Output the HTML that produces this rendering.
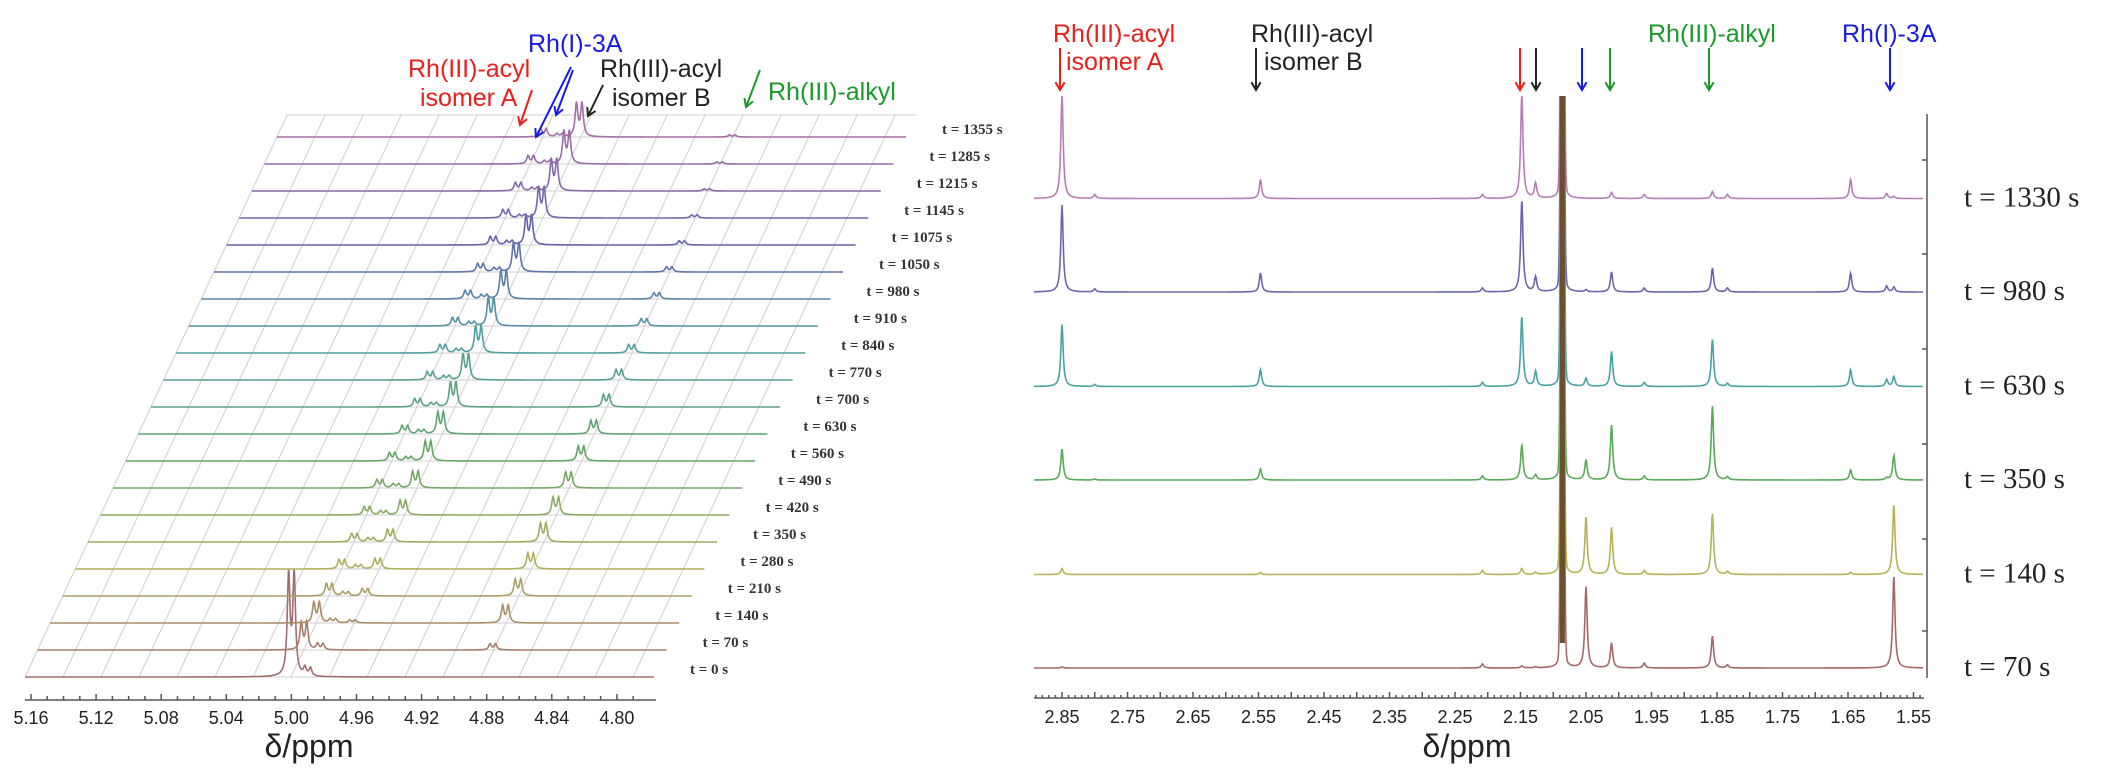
<!DOCTYPE html>
<html><head><meta charset="utf-8">
<style>
html,body{margin:0;padding:0;background:#fff;}
svg{display:block;}
.lab{font-family:"Liberation Sans",sans-serif;font-size:25px;}
.tick{font-family:"Liberation Sans",sans-serif;font-size:18px;fill:#222;}
.tl{font-family:"Liberation Serif",serif;font-size:15px;fill:#333;font-weight:bold;}
.tr{font-family:"Liberation Serif",serif;font-size:29px;fill:#222;}
</style></head>
<body>
<svg id="fig" width="2110" height="782" viewBox="0 0 2110 782" xmlns="http://www.w3.org/2000/svg">
<defs><clipPath id="rclip"><rect x="1000" y="96" width="1000" height="700"/></clipPath></defs>
<g id="left"></g>
<g id="right"></g>

<g>
<text class="lab" x="408" y="77" fill="#e8201c">Rh(III)-acyl</text>
<text class="lab" x="420" y="106" fill="#e8201c">isomer A</text>
<text class="lab" x="528" y="52" fill="#1a1ae8">Rh(I)-3A</text>
<text class="lab" x="600" y="77" fill="#222">Rh(III)-acyl</text>
<text class="lab" x="612" y="106" fill="#222">isomer B</text>
<text class="lab" x="768" y="100" fill="#1a9a2a">Rh(III)-alkyl</text>
</g>
<g>
<text class="lab" x="1053" y="42" fill="#e8201c">Rh(III)-acyl</text>
<text class="lab" x="1066" y="70" fill="#e8201c">isomer A</text>
<text class="lab" x="1251" y="42" fill="#222">Rh(III)-acyl</text>
<text class="lab" x="1264" y="70" fill="#222">isomer B</text>
<text class="lab" x="1648" y="42" fill="#1a9a2a">Rh(III)-alkyl</text>
<text class="lab" x="1842" y="42" fill="#1a1ae8">Rh(I)-3A</text>
</g>
<g id="arrows"></g>
</svg>
<script>
// ---------- LEFT PANEL DATA ----------
const leftTimes = [0,70,140,210,280,350,420,490,560,630,700,770,840,910,980,1050,1075,1145,1215,1285,1355];
const leftPpmTicks = [5.16,5.12,5.08,5.04,5.00,4.96,4.92,4.88,4.84,4.80];
const leftPeakPpm = [5.000, 4.978, 4.884, 4.990];
const leftPeakA = [101,27,20,12,9,8,8,8,8,8,8,8,8,8,8,8,8,8,8,8,8];
const leftPeakB = [0,0,3,7,10,12,14,16,19,21,24,25,26,27,27,28,29,30,31,32,33];
const leftPeakC = [0,6,17,16,15,18,17,15,14,13,12,10,8,7,6,5,4,3,2,2,2];
const leftPeakD = [8,6,4,4,4,4,4,4,4,4,4,4,4,4,4,4,4,3,3,3,3];

// ---------- RIGHT PANEL DATA ----------
const rightTimes = [1330,980,630,350,140,70];
const rightPpmTicks = [2.85,2.75,2.65,2.55,2.45,2.35,2.25,2.15,2.05,1.95,1.85,1.75,1.65,1.55];
const rightPeakPpm = [2.85,2.80,2.547,2.208,2.148,2.127,2.086,2.05,2.011,1.961,1.857,1.834,1.646,1.591,1.580];
const rH1330 = [104,4,19,4,104,15,700,0,6,4,7,4,19,5,2];
const rH980  = [87,3,19,4,92,15,700,2,20,4,24,4,19,6,5];
const rH630  = [62,2,17,4,70,15,700,8,35,4,47,3,17,7,10];
const rH350  = [31,1,11,4,35,5,700,20,55,4,74,3,10,2,25];
const rH140  = [6,0,2,4,6,2,700,57,47,4,61,3,2,0,70];
const rH70   = [1,0,0,4,2,1,700,81,25,5,32,3,0,0,92];

const NS='http://www.w3.org/2000/svg';
function mk(parent,tag,attrs){const e=document.createElementNS(NS,tag);for(const k in attrs)e.setAttribute(k,attrs[k]);parent.appendChild(e);return e;}
function lerpColor(stops,t){const n=stops.length-1;const s=Math.min(n-1,Math.floor(t*n));const f=t*n-s;const a=stops[s],b=stops[s+1];return 'rgb('+a.map((v,i)=>Math.round(v+(b[i]-v)*f)).join(',')+')';}
const lor=(x,x0,g)=>g*g/((x-x0)*(x-x0)+g*g);

// ---------- LEFT ----------
const L=document.getElementById('left');
const lx0=31, lppm0=5.16, lpx=65.1/0.04, ldx=12.6, ldy=27, lbase=677;
const lx=(p,i)=>lx0+(lppm0-p)*lpx+ldx*i;
const ly=i=>lbase-ldy*i;
const nT=leftTimes.length;
const grid=mk(L,'g',{stroke:'#cfcfcf','stroke-width':1,fill:'none'});


for(let gx=25;gx<=660;gx+=38){mk(grid,'line',{x1:gx,y1:lbase,x2:gx+ldx*(nT-1)+ldx*0.8,y2:ly(nT-1)-22});}
for(let i=0;i<nT;i++){mk(grid,'line',{x1:25+ldx*i,y1:ly(i),x2:654+ldx*i,y2:ly(i)});}
mk(grid,'line',{x1:25+ldx*(nT-1)+10,y1:ly(nT-1)-22,x2:654+ldx*(nT-1)+10,y2:ly(nT-1)-22});
const lstops=[[160,110,110],[175,175,95],[100,165,100],[80,160,160],[100,100,170],[165,110,165]];
for(let i=0;i<nT;i++){
  let d='';
  const gpx=1.6/lpx;
  const dbl=(p,c,h)=>h*(lor(p,c+0.0017,gpx)+lor(p,c-0.0017,gpx));
  for(let x=25;x<=654;x+=0.5){
    const p=lppm0-(x-lx0)/lpx;
    let h=0;
    h+=dbl(p,leftPeakPpm[0],leftPeakA[i]);
    h+=dbl(p,leftPeakPpm[1],leftPeakB[i]);
    h+=dbl(p,leftPeakPpm[2],leftPeakC[i]);
    h+=dbl(p,leftPeakPpm[3],leftPeakD[i]);
    d+=(d?'L':'M')+(x+ldx*i).toFixed(1)+' '+(ly(i)-h).toFixed(1);
  }
  const col=lerpColor(lstops,i/(nT-1));
  const path=mk(L,'path',{d:d,fill:'none',stroke:col,'stroke-width':1.6});
  
  
  const t=mk(L,'text',{class:'tl',x:654+ldx*i+36,y:ly(i)-3});
  t.textContent='t = '+leftTimes[i]+' s';
  
  
}
const lax=mk(L,'g',{stroke:'#555','stroke-width':1.5});


mk(lax,'line',{x1:25,y1:700,x2:656,y2:700});
for(let k=0;k<=38;k++){const p=5.17-k*0.01;const x=lx(p,0);if(x<25||x>656)continue;const maj=Math.abs((p*100)%4)<0.01||Math.abs((p*100)%4-4)<0.01;mk(lax,'line',{x1:x,y1:700,x2:x,y2:maj?694:696});}
leftPpmTicks.forEach(v=>{const t=mk(L,'text',{class:'tick',x:lx(v,0),y:724,'text-anchor':'middle'});t.textContent=v.toFixed(2);
  
  });
const lt=mk(L,'text',{x:309,y:757,'text-anchor':'middle','font-family':'Liberation Sans, sans-serif','font-size':32,fill:'#222'});
lt.textContent='δ/ppm';



// ---------- RIGHT ----------
const R=document.getElementById('right');
const rx0=1062, rppm0=2.85, rpx=655;
const rx=p=>rx0+(rppm0-p)*rpx;
const rBase=[198.5,292,386.5,480,574.5,668];
const rCols=['#b57fb5','#6a68aa','#4aa3a3','#5aaa5a','#b4b45a','#a46a6a'];
const rH=[rH1330,rH980,rH630,rH350,rH140,rH70];
const cg=mk(R,'g',{'clip-path':'url(#rclip)'});
for(let i=0;i<rightTimes.length;i++){
  let d='';
  for(let x=1034;x<=1923;x+=0.5){
    const p=rppm0-(x-rx0)/rpx;
    let h=0;
    for(let k=0;k<rightPeakPpm.length;k++){
      if(k===6){
        const dx=(p-rightPeakPpm[k])*rpx;
        h+=rH[i][k]*Math.exp(-dx*dx/(2*1.3*1.3))+22*lor(dx,0,3);
      } else {
        h+=rH[i][k]*lor(p,rightPeakPpm[k],1.4/rpx);
      }
    }
    d+=(d?'L':'M')+x.toFixed(1)+' '+(rBase[i]-h).toFixed(1);
  }
  const path=mk(cg,'path',{d:d,fill:'none',stroke:rCols[i],'stroke-width':1.6});
  
  
  const t=mk(R,'text',{class:'tr',x:1964,y:rBase[i]+8});
  t.textContent='t = '+rightTimes[i]+' s';
  
  
}
const solv=mk(R,'rect',{x:rx(rightPeakPpm[6])-2.5,y:96,width:5,height:rBase[5]-96-25,fill:'#6b4f2e'});


const rax=mk(R,'g',{stroke:'#555','stroke-width':1.5});


mk(rax,'line',{x1:1034,y1:698,x2:1924,y2:698});
for(let k=0;k<=136;k++){const p=2.89-k*0.01;const x=rx(p);if(x<1034||x>1924)continue;const m=Math.round(p*100)%5===0;mk(rax,'line',{x1:x,y1:698,x2:x,y2:m?692:695});}
mk(rax,'line',{x1:1927,y1:114,x2:1927,y2:678});
[160,254,349,444,539,631].forEach(y=>mk(rax,'line',{x1:1927,y1:y,x2:1922,y2:y}));
rightPpmTicks.forEach(v=>{const t=mk(R,'text',{class:'tick',x:rx(v),y:723,'text-anchor':'middle'});t.textContent=v.toFixed(2);
  
  });
const rt=mk(R,'text',{x:1467,y:757,'text-anchor':'middle','font-family':'Liberation Sans, sans-serif','font-size':32,fill:'#222'});
rt.textContent='δ/ppm';



// ---------- ARROWS ----------
const A=document.getElementById('arrows');
function arrow(x1,y1,x2,y2,c){
  const g=mk(A,'g',{stroke:c,'stroke-width':2,fill:'none'});
  
  
  mk(g,'line',{x1:x1,y1:y1,x2:x2,y2:y2});
  const ang=Math.atan2(y2-y1,x2-x1),L2=9;
  const a1=ang+Math.PI*0.83,a2=ang-Math.PI*0.83;
  mk(g,'polyline',{points:(x2+L2*Math.cos(a1))+','+(y2+L2*Math.sin(a1))+' '+x2+','+y2+' '+(x2+L2*Math.cos(a2))+','+(y2+L2*Math.sin(a2))});
}
arrow(532,90,520,125,'#e8201c');
arrow(571,67,536,137,'#1a1ae8');
arrow(573,70,556,115,'#1a1ae8');
arrow(603,85,588,116,'#222');
arrow(760,70,746,107,'#1a9a2a');
[[1060,'#e8201c'],[1256,'#222'],[1520,'#e8201c'],[1536,'#222'],[1582,'#1a1ae8'],[1610,'#1a9a2a'],[1709,'#1a9a2a'],[1890,'#1a1ae8']].forEach(a=>arrow(a[0],48,a[0],90,a[1]));
</script>
</body></html>
